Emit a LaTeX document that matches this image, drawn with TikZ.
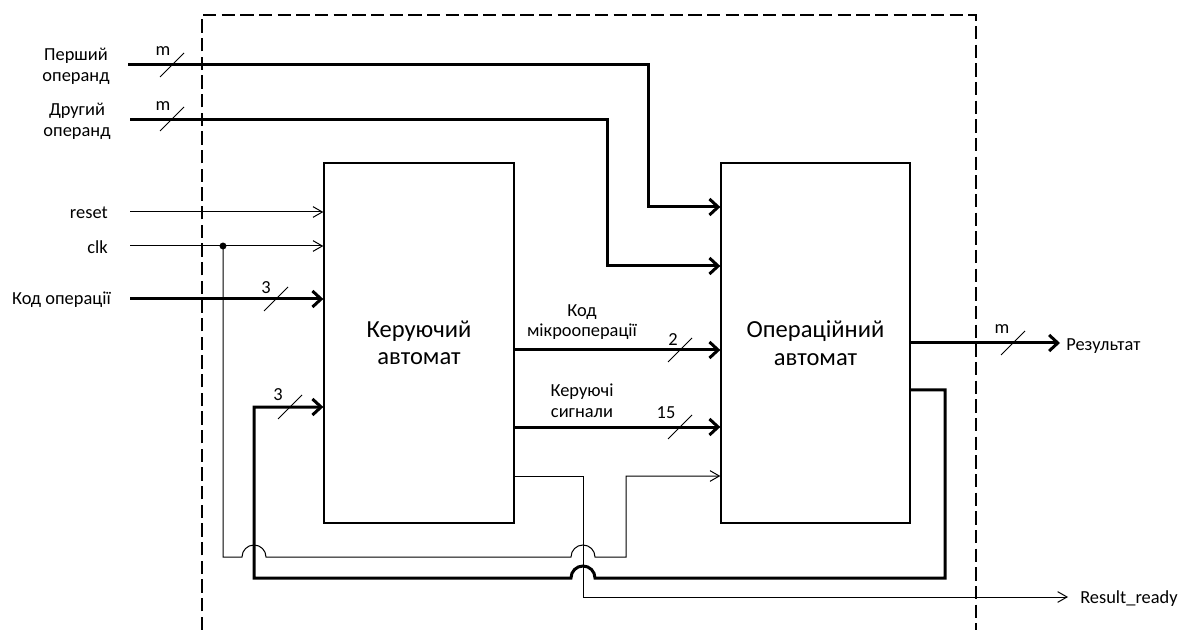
\documentclass[tikz,border=0pt]{standalone}
\usepackage{fontspec}
\setmainfont{Carlito}
\usetikzlibrary{arrows.meta}
\begin{document}
\begin{tikzpicture}[x=0.75pt,y=-0.75pt,
  thinline/.style={line width=0.75pt},
  bus/.style={line width=2.25pt},
  thinarrow/.style={thinline,-{Straight Barb[length=7pt,width=8pt]}},
  busarrow/.style={bus,-{Straight Barb[length=6.5pt,width=12pt]}},
  block/.style={draw,line width=1pt,minimum width=142.5pt,minimum height=270pt,align=center,
    font=\fontsize{18.4}{20.5}\selectfont,inner sep=0pt},
  lbl/.style={font=\fontsize{13.8}{15.5}\selectfont,align=center,inner sep=0pt},
  frame/.style={line width=1.1pt,dash pattern=on 10pt off 4pt},
  slash/.style={line width=0.75pt}]
\useasboundingbox (0,0) rectangle (1180,630);

% dashed frame
\draw[frame] (202,630) -- (202,15) -- (976,15) -- (976,630);

% blocks
\node[block] (ka) at (419,343) {Керуючий\\автомат};
\node[block,minimum width=141.75pt] (oa) at (815.5,343) {Операційний\\автомат};

% free ends
\coordinate (in1) at (128,65);
\coordinate (in2) at (130,120);
\coordinate (rst) at (130,212);
\coordinate (clk) at (130,246);
\coordinate (kop) at (130,299);
\coordinate (dot) at (223,246);
\coordinate (res) at (1060,343);
\coordinate (rdy) at (1068,597);

% input labels
\node[lbl] (t1) at (76,66) {Перший\\операнд};
\node[lbl] (t2) at (77,121) {Другий\\операнд};
\node[lbl,anchor=east] (t3) at (108,213) {reset};
\node[lbl,anchor=east] (t4) at (108,247) {clk};
\node[lbl,anchor=east] (t5) at (111,300) {Код операції};
\node[lbl,anchor=west] (t6) at (1066,346) {Результат};
\node[lbl,anchor=west] (t7) at (1080,599) {Result\_ready};
\node[lbl] (t8) at (582,322) {Код\\мікрооперації};
\node[lbl] (t9) at (582,401) {Керуючі\\сигнали};

% operand buses
\draw[busarrow] (in1) -| (648,207) -- (oa.west |- 0,207);
\draw[busarrow] (in2) -| (607,266) -- (oa.west |- 0,266);

% reset, clk
\draw[thinarrow] (rst) -- (ka.west |- rst);
\draw[thinarrow] (clk) -- (ka.west |- clk);
\fill (dot) circle (2.6pt);

% clk branch to operational automaton
\draw[thinarrow] (dot) -- (223,557) -- (242,557) arc[start angle=180,end angle=0,radius=9pt]
  -- (571,557) arc[start angle=180,end angle=0,radius=9pt]
  -- (626,557) -- (626,476) -- (oa.west |- 0,476);

% operation code
\draw[busarrow] (kop) -- (ka.west |- kop);

% micro-op code and control signals
\draw[busarrow] (ka.east |- 0,350) -- (oa.west |- 0,350);
\draw[busarrow] (ka.east |- 0,427) -- (oa.west |- 0,427);

% result
\draw[busarrow] (oa.east |- res) -- (res);

% feedback
\draw[busarrow] (oa.east |- 0,390) -- (945,390) -- (945,578) -- (595,578)
  arc[start angle=0,end angle=180,radius=9pt] -- (254,578) -- (254,407) -- (ka.west |- 0,407);

% result ready
\draw[thinarrow] (ka.east |- 0,476) -- (583,476) -- (583,597) -- (rdy);

% bus width marks
\draw[slash] (160,77) -- (184,53);
\node[lbl] (m1) at (163,51) {m};
\draw[slash] (160,131) -- (184,107);
\node[lbl] (m2) at (163,106) {m};
\draw[slash] (264,311) -- (288,287);
\node[lbl] (n3a) at (266,288) {3};
\draw[slash] (278,419) -- (302,395);
\node[lbl] (n3b) at (278,395) {3};
\draw[slash] (668,362) -- (692,338);
\node[lbl] (n2) at (673,340) {2};
\draw[slash] (668,439) -- (692,415);
\node[lbl] (n15) at (666,413) {15};
\draw[slash] (1001,355) -- (1025,331);
\node[lbl] (m3) at (1002,329) {m};
\end{tikzpicture}
\end{document}
